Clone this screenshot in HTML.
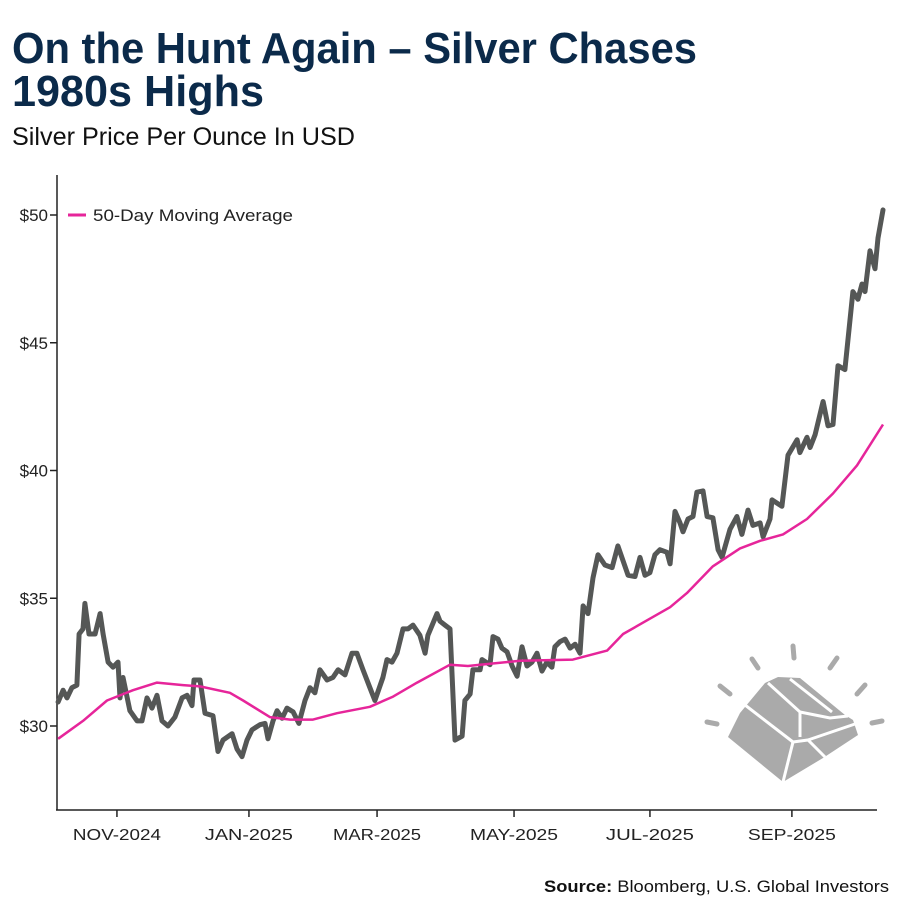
<!DOCTYPE html>
<html><head><meta charset="utf-8"><style>
html,body{margin:0;padding:0;background:#fff;}
svg{display:block;font-family:"Liberation Sans",sans-serif;}
</style></head><body>
<svg id="chart" width="900" height="900" viewBox="0 0 900 900">
<text x="12" y="63" font-size="44" font-weight="bold" fill="#0b2a4a" textLength="685" lengthAdjust="spacingAndGlyphs">On the Hunt Again – Silver Chases</text>
<text x="12" y="106" font-size="44" font-weight="bold" fill="#0b2a4a" textLength="252" lengthAdjust="spacingAndGlyphs">1980s Highs</text>
<text x="12" y="145" font-size="25" fill="#111" textLength="343" lengthAdjust="spacingAndGlyphs">Silver Price Per Ounce In USD</text>
<g>
<g stroke="#aaaaaa" stroke-width="5" stroke-linecap="round">
<line x1="707" y1="722" x2="717" y2="724"/><line x1="720" y1="686" x2="730" y2="694"/><line x1="752" y1="659" x2="758" y2="668"/><line x1="793" y1="646" x2="794" y2="658"/><line x1="837" y1="658" x2="830" y2="668"/><line x1="865" y1="685" x2="857" y2="694"/><line x1="872" y1="723" x2="882" y2="721"/>
</g>
<polygon fill="#aaaaaa" points="740,713 765,683 778,677 800,678 845,715 853,720 858,735 823,758 783,782 728,737"/>
<g stroke="#fff" stroke-width="3" fill="none">
<polyline points="745,705 793,742"/><polyline points="793,742 783,782"/><polyline points="793,742 808,740 825,757"/><polyline points="768,683 800,712 800,737"/><polyline points="800,712 830,718 848,716"/><polyline points="790,679 832,712"/><polyline points="808,740 855,724"/>
</g>
</g>
<g id="axes"></g>
<g id="series"></g>
<g>
<line x1="68" y1="215" x2="86" y2="215" stroke="#e6259a" stroke-width="3"/>
<text x="93" y="221" font-size="17" fill="#222" textLength="200" lengthAdjust="spacingAndGlyphs">50-Day Moving Average</text>
</g>
<text x="889" y="892" font-size="17" fill="#111" text-anchor="end" textLength="345" lengthAdjust="spacingAndGlyphs"><tspan font-weight="bold">Source:</tspan> Bloomberg, U.S. Global Investors</text>
</svg>
<script>
// days since 2024-10-04 (trading-day spaced axis)
const priceDays=[0.5,2.8,4.6,6.9,9.2,10.2,12,12.9,14.8,17.6,19.9,21.3,23.6,25.9,28.2,29.1,30.5,33.7,37,39.3,41.6,43.9,46.2,48.5,51.3,54.5,57.8,60.1,62.4,63.3,66.1,68.4,72.1,74.4,76.7,80.9,83.2,85.5,87.8,90.1,93.8,96.1,97.5,99.8,101.7,104,106.3,109.1,111.8,114.6,116.9,119.2,121.5,124.8,127.5,129.9,133.1,136.3,138.6,141.4,144.6,146.9,150.6,152.5,154.8,157.1,159.9,162.2,164.5,167.7,170.1,171.4,175.6,177,179.3,181.6,183.9,187.2,188.5,190.9,192.2,195.5,196.4,200.1,201.5,203.8,205.6,208,210.3,212.6,214.9,217.2,219.5,221.8,224.1,226.4,228.7,230.1,232.4,234.8,237.1,239.4,241.7,243.1,245.4,247.7,250,253.2,256.5,259.2,263.9,267.1,269.4,271.7,274,276.3,278.6,281.9,283.3,285.6,287.9,289.3,291.6,293.9,295.7,298.5,300.4,303.1,305.5,307.3,311,314.2,316.5,319.3,321.6,324.9,326.3,329.5,330.4,335,337.8,342,343.3,346.6,348,350.3,354,356.3,358.6,360.9,364.1,367.8,370.1,372,373.4,375.7,378,379.4,381.7];
const priceValues=[30.94,31.4,31.1,31.5,31.6,33.6,33.8,34.8,33.6,33.6,34.4,33.6,32.5,32.3,32.5,31.1,31.9,30.6,30.2,30.2,31.1,30.7,31.2,30.2,30.0,30.35,31.1,31.2,30.8,31.8,31.8,30.5,30.4,29.0,29.45,29.7,29.1,28.8,29.45,29.85,30.05,30.1,29.5,30.2,30.6,30.3,30.7,30.55,30.1,31.0,31.5,31.3,32.2,31.8,31.9,32.2,32.0,32.85,32.85,32.2,31.5,31.0,31.9,32.6,32.5,32.85,33.8,33.8,33.95,33.55,32.85,33.55,34.4,34.1,33.95,33.8,29.45,29.6,31.0,31.25,32.2,32.2,32.6,32.4,33.5,33.4,33.05,32.9,32.35,31.95,33.1,32.35,32.5,32.85,32.15,32.5,32.3,33.1,33.3,33.4,33.05,33.2,32.85,34.7,34.4,35.8,36.7,36.3,36.2,37.05,35.9,35.85,36.6,35.9,36.0,36.7,36.9,36.8,36.35,38.4,37.95,37.6,38.1,38.2,39.15,39.2,38.2,38.15,36.9,36.6,37.7,38.2,37.5,38.45,37.85,37.95,37.4,38.1,38.85,38.6,40.6,41.2,40.7,41.3,40.9,41.4,42.7,41.75,41.8,44.1,43.95,47.0,46.7,47.3,47.0,48.6,47.9,49.1,50.2];
const maDays=[0.5,12,23.1,35.1,46.2,58.2,66.1,79.9,86,98.4,107.7,118.3,129.4,144.6,155.3,166.4,181.6,189.9,195.5,214,238.4,254.2,261.6,274,283.3,291.1,303.1,315.6,324.9,335.5,346.6,358.6,369.7,381.7];
const maValues=[29.5,30.2,31.0,31.4,31.7,31.6,31.55,31.3,31.0,30.35,30.25,30.25,30.5,30.75,31.15,31.7,32.4,32.35,32.4,32.55,32.6,32.95,33.6,34.2,34.65,35.2,36.25,36.95,37.25,37.5,38.1,39.1,40.2,41.8];
const yTickValues=[30,35,40,45,50];
const yTickLabels=["$30","$35","$40","$45","$50"];
const xTickDays=[27.7,88.7,147.9,211.2,274,339.6];
const xTickLabels=["NOV-2024","JAN-2025","MAR-2025","MAY-2025","JUL-2025","SEP-2025"];

const NS="http://www.w3.org/2000/svg";
const X0=57,X1=883,D0=0,D1=381.7;
const Y30=726,PPU=25.55;
function xScale(d){return X0+(d-D0)/(D1-D0)*(X1-X0);}
function yScale(v){return Y30-(v-30)*PPU;}
function mk(tag,attrs,parent){const e=document.createElementNS(NS,tag);for(const k in attrs)e.setAttribute(k,attrs[k]);parent.appendChild(e);return e;}
const axes=document.getElementById('axes');
const ya=mk('line',{x1:57,y1:175,x2:57,y2:810,stroke:'#222','stroke-width':1.5},axes);


const xa=mk('line',{x1:56,y1:810,x2:877,y2:810,stroke:'#222','stroke-width':1.5},axes);


yTickValues.forEach((v,i)=>{
  const y=yScale(v);
  const t=mk('line',{x1:50,y1:y,x2:57,y2:y,stroke:'#222','stroke-width':1.5},axes);
  
  
  const l=mk('text',{x:48,y:y+6,'font-size':17,'text-anchor':'end',fill:'#222'},axes);
  
  
  l.textContent=yTickLabels[i];
});
xTickDays.forEach((d,i)=>{
  const x=xScale(d);
  const t=mk('line',{x1:x,y1:810,x2:x,y2:817,stroke:'#222','stroke-width':1.5},axes);
  
  
  const l=mk('text',{x:x,y:840,'font-size':16,'text-anchor':'middle',fill:'#222',textLength:88,lengthAdjust:'spacingAndGlyphs'},axes);
  
  
  l.textContent=xTickLabels[i];
});
const series=document.getElementById('series');
const pp=priceDays.map((d,i)=>xScale(d).toFixed(1)+','+yScale(priceValues[i]).toFixed(1)).join(' ');
const pl=mk('polyline',{points:pp,fill:'none',stroke:'#555756','stroke-width':5,'stroke-linejoin':'round','stroke-linecap':'round'},series);


const mp=maDays.map((d,i)=>xScale(d).toFixed(1)+','+yScale(maValues[i]).toFixed(1)).join(' ');
const ml=mk('polyline',{points:mp,fill:'none',stroke:'#e6259a','stroke-width':2.5,'stroke-linejoin':'round'},series);


</script>
</body></html>
